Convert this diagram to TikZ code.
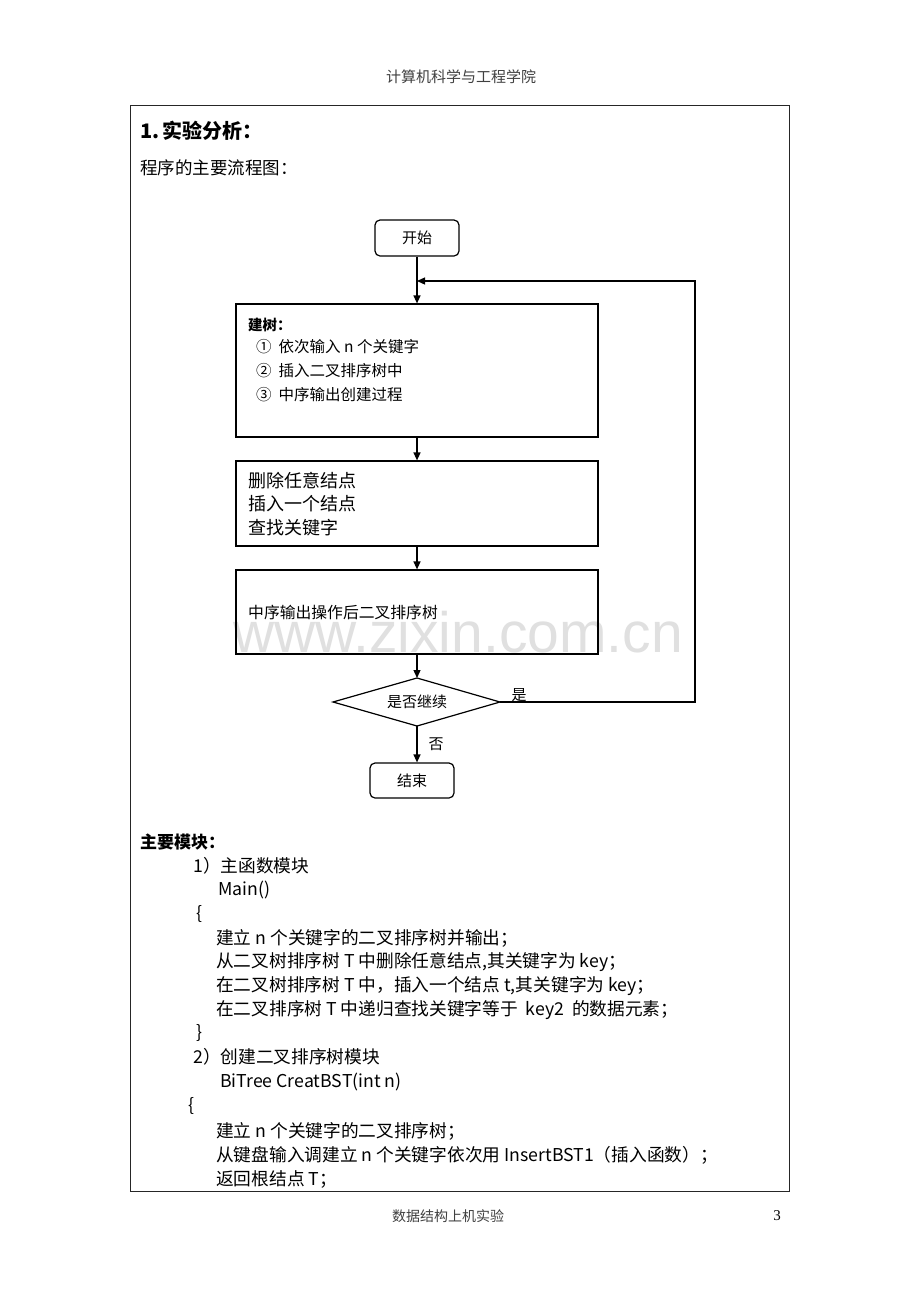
\documentclass[tikz,border=0pt]{standalone}
\usepackage{fontspec}
\newfontfamily\cjk{Noto Sans CJK SC}
\newfontfamily\wmfont{Liberation Sans}
\newfontfamily\numfont{Liberation Serif}
\usetikzlibrary{arrows.meta}
\newcommand{\fs}[1]{\fontsize{#1}{#1}\selectfont}
\begin{document}
\begin{tikzpicture}[x=1pt,y=-1pt,
  box/.style={draw=black,line width=1.2pt,inner sep=0pt},
  rbox/.style={box,rounded corners=5pt},
  txt/.style={anchor=west,inner sep=0pt,font=\cjk\fs{#1}},
  txt/.default=17.7,
  arr/.style={line width=1.3pt,-{Triangle[length=8pt,width=7pt]}},
  ln/.style={line width=1.3pt}]
\useasboundingbox (0,0) rectangle (920,1302);
\fill[white] (0,0) rectangle (920,1302);
% watermark
\node[anchor=base,inner sep=0pt,text=black!12,font=\wmfont\fs{57}] (wm) at (458,652) {www.zixin.com.cn};
% header/footer
\node[inner sep=0pt,text=black!75,font=\cjk\fs{15}] (hdr) at (461,77) {计算机科学与工程学院};
\node[inner sep=0pt,text=black!75,font=\cjk\fs{14}] (ftr) at (448,1216) {数据结构上机实验};
\node[inner sep=0pt,font=\numfont\fs{15}] (pg) at (777,1216) {3};
% outer frame
\draw[line width=1pt,draw=black!85] (130,105) rectangle (789,1191);
\node[txt=20,font=\cjk\bfseries\fs{20}] (t1) at (140,131) {1.\,实验分析：};
\node[txt=17.5] (t2) at (140,168) {程序的主要流程图：};
% flowchart
\node[rbox,minimum width=84pt,minimum height=36pt,font=\cjk\fs{15}] (start) at (417,238) {开始};
\node[box,minimum width=362pt,minimum height=133pt] (b1) at (417,370.5) {};
\node[box,minimum width=362pt,minimum height=85pt] (b2) at (417,503.5) {};
\node[box,minimum width=362pt,minimum height=84pt] (b3) at (417,612) {};
\draw[line width=1.2pt] (333,702) -- (417,678) -- (500,702) -- (417,726) -- cycle;
\coordinate (dN) at (417,678);
\coordinate (dE) at (500,702);
\coordinate (dS) at (417,726);
\node[inner sep=0pt,font=\cjk\fs{15}] (dec) at (417,702) {是否继续};
\node[rbox,minimum width=84pt,minimum height=35pt,font=\cjk\fs{15}] (end) at (412,780.5) {结束};
% box texts
\node[txt=14.5,font=\cjk\bfseries\fs{14.5}] (b1t) at (248,325) {建树：};
\node[txt=15.5] (b1a) at (256,347) {①\ \ 依次输入 n 个关键字};
\node[txt=15.5] (b1b) at (256,371) {②\ \ 插入二叉排序树中};
\node[txt=15.5] (b1c) at (256,395) {③\ \ 中序输出创建过程};
\node[txt=18] (b2a) at (248,481) {删除任意结点};
\node[txt=18] (b2b) at (248,504) {插入一个结点};
\node[txt=18] (b2c) at (248,528) {查找关键字};
\node[txt=15.8] (b3a) at (248,612) {中序输出操作后二叉排序树};
% connectors
\coordinate (j) at (417,281);
\coordinate (rt) at (695,702);
\coordinate (rb) at (695,281);
\draw[ln] (start.south) -- (j);
\draw[arr] (j) -- (b1.north);
\draw[arr] (b1.south) -- (b2.north);
\draw[arr] (b2.south) -- (b3.north);
\draw[arr] (b3.south) -- (dN);
\draw[arr] (dS) -- (end.north -| dS);
\draw[arr] (dE) -- (rt) -- (rb) -- (j);
\node[inner sep=0pt,font=\cjk\fs{15}] (yes) at (519,695) {是};
\node[inner sep=0pt,font=\cjk\fs{15}] (no) at (436,744) {否};
% modules
\node[txt=17,font=\cjk\bfseries\fs{17}] (m0) at (140,842) {主要模块：};
\node[txt] (m1) at (193,866) {1）主函数模块};
\node[txt] (m2) at (218,890) {Main()};
\node[txt] (m3) at (196,914) {\{};
\node[txt] (m4) at (216,938) {建立 n 个关键字的二叉排序树并输出；};
\node[txt] (m5) at (216,962) {从二叉树排序树 T 中删除任意结点,其关键字为 key；};
\node[txt] (m6) at (216,986) {在二叉树排序树 T 中，插入一个结点 t,其关键字为 key；};
\node[txt] (m7) at (216,1010) {在二叉排序树 T 中递归查找关键字等于\ \ key2\ \ 的数据元素；};
\node[txt] (m8) at (196,1033) {\}};
\node[txt] (m9) at (193,1057) {2）创建二叉排序树模块};
\node[txt] (m10) at (220,1082) {BiTree CreatBST(int n)};
\node[txt] (m11) at (188,1106) {\{};
\node[txt] (m12) at (216,1131) {建立 n 个关键字的二叉排序树；};
\node[txt] (m13) at (216,1155) {从键盘输入调建立 n 个关键字依次用 InsertBST1（插入函数）；};
\node[txt] (m14) at (216,1179) {返回根结点 T；};
\end{tikzpicture}
\end{document}
